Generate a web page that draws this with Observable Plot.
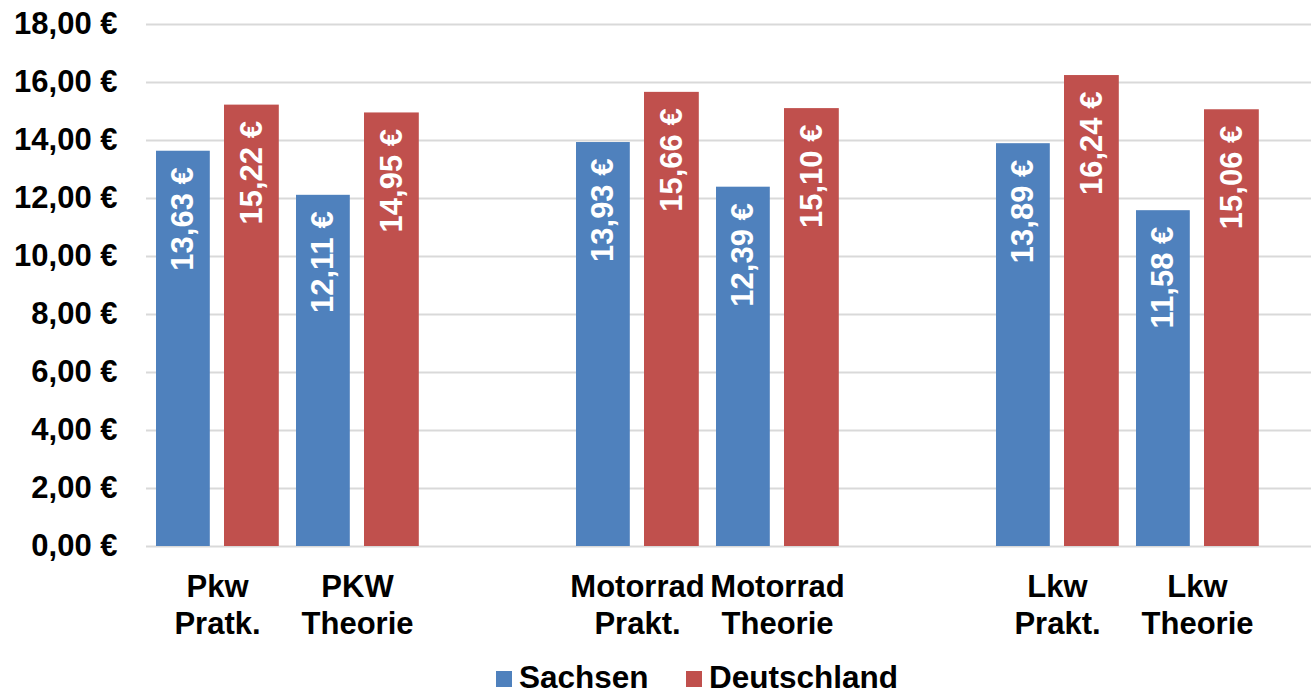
<!DOCTYPE html>
<html><head><meta charset="utf-8">
<script src="https://cdn.jsdelivr.net/npm/d3@7"></script>
<script src="https://cdn.jsdelivr.net/npm/@observablehq/plot@0.6"></script>
<style>
body{margin:0;background:#fff;font-family:"Liberation Sans",Arial,sans-serif;overflow:hidden;}
#chart svg{display:block;}
#legend{position:relative;height:31px;font-weight:bold;font-size:31.5px;color:#000;}
#legend .item{position:absolute;top:0;display:flex;align-items:center;line-height:31px;white-space:nowrap;}
#legend .sw{display:inline-block;width:16px;height:16px;margin-right:7px;position:relative;top:1.5px;}
</style></head><body>
<div id="chart"></div>
<div id="legend"></div>
<script>
const categories = ["Pkw\nPratk.", "PKW\nTheorie", "gap1", "Motorrad\nPrakt.", "Motorrad\nTheorie", "gap2", "Lkw\nPrakt.", "Lkw\nTheorie"];
const labeled = ["Pkw\nPratk.", "PKW\nTheorie", "Motorrad\nPrakt.", "Motorrad\nTheorie", "Lkw\nPrakt.", "Lkw\nTheorie"];
const seriesNames = ["Sachsen", "Deutschland"];
const sachsen = [13.63, 12.11, 13.93, 12.39, 13.89, 11.58];
const deutschland = [15.22, 14.95, 15.66, 15.10, 16.24, 15.06];
const yTicks = [0, 2, 4, 6, 8, 10, 12, 14, 16, 18];
const colors = ["#4F81BD", "#C0504D"];

const fmt = v => v.toFixed(2).replace(".", ",") + " €";
const rows = labeled.map((c, i) => ({cat: c, s: sachsen[i], d: deutschland[i]}));
const font = "'Liberation Sans', Arial, sans-serif";

const chart = Plot.plot({
  width: 1311, height: 662,
  marginLeft: 146, marginRight: 0, marginTop: 24, marginBottom: 116,
  x: {type: "band", domain: categories, range: [146, 1267.6], padding: 0, axis: null},
  y: {domain: [0, 18], axis: null},
  style: {fontFamily: font, fontWeight: "bold", fontSize: "31px", color: "#000", background: "#fff"},
  marks: [
    Plot.ruleY(yTicks, {stroke: "#d9d9d9", strokeWidth: 1.8}),
    Plot.barY(rows, {x: "cat", y: "s", fill: colors[0], insetLeft: 9, insetRight: 77.2}),
    Plot.barY(rows, {x: "cat", y: "d", fill: colors[1], insetLeft: 77, insetRight: 8.2}),
    Plot.text(rows, {x: "cat", y: "s", text: d => fmt(d.s), rotate: -90, textAnchor: "end", lineAnchor: "middle", dx: -34, dy: 16, fill: "white", fontSize: 31, fontWeight: "bold"}),
    Plot.text(rows, {x: "cat", y: "d", text: d => fmt(d.d), rotate: -90, textAnchor: "end", lineAnchor: "middle", dx: 34.5, dy: 16, fill: "white", fontSize: 31, fontWeight: "bold"}),
    Plot.axisY(yTicks, {tickSize: 0, tickPadding: 29, tickFormat: fmt, fontSize: 31, label: null}),
    Plot.axisX(labeled, {tickSize: 0, tickPadding: 24, lineHeight: 1.2, fontSize: 31, label: null})
  ]
});
document.getElementById("chart").appendChild(chart);

const legend = document.getElementById("legend");
const lefts = [496, 686];
seriesNames.forEach((n, i) => {
  const it = document.createElement("div");
  it.className = "item";
  it.style.left = lefts[i] + "px";
  const sw = document.createElement("span");
  sw.className = "sw";
  sw.style.background = colors[i];
  it.appendChild(sw);
  it.appendChild(document.createTextNode(n));
  legend.appendChild(it);
});
</script>
</body></html>
